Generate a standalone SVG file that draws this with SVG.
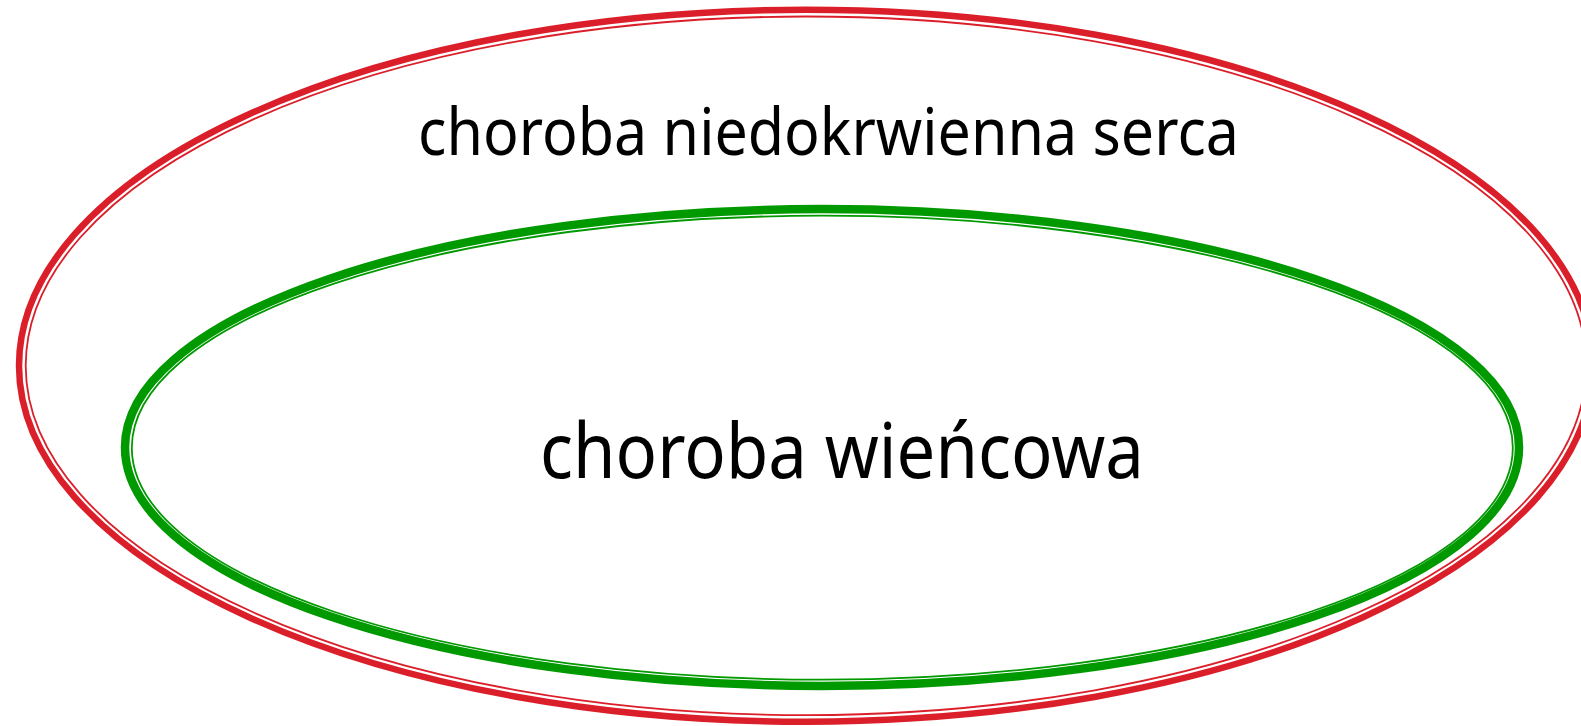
<svg xmlns="http://www.w3.org/2000/svg" width="1581" height="726" viewBox="0 0 1581 726">
<style>
.bg{fill:#ffffff}
.ring{fill:none}
.red{stroke:#db1f2a}
.green{stroke:#009900}
.thick-r{stroke-width:6.5}
.thick-g{stroke-width:8.5}
.thin{stroke-width:1.8}
.lbl{font-family:"Noto Sans","Open Sans","DejaVu Sans",sans-serif;fill:#000000;text-anchor:start}
</style>
<rect class="bg" x="0" y="0" width="1581" height="726"/>
<g id="node-choroba-niedokrwienna">
<ellipse class="ring red thick-r" cx="806" cy="365.7" rx="787" ry="356"/>
<ellipse class="ring red thin" cx="806" cy="365.8" rx="780.3" ry="349.3"/>
<text class="lbl" x="418" y="155" font-size="65" textLength="821" lengthAdjust="spacingAndGlyphs">choroba niedokrwienna serca</text>
</g>
<g id="node-choroba-wiencowa">
<ellipse class="ring green thick-g" cx="822" cy="447.5" rx="697" ry="238.4"/>
<ellipse class="ring green thin" cx="822.3" cy="447.7" rx="690.5" ry="232"/>
<text class="lbl" x="540" y="478" font-size="77" textLength="604" lengthAdjust="spacingAndGlyphs">choroba wieńcowa</text>
</g>
<g id="connectors"></g>
</svg>
